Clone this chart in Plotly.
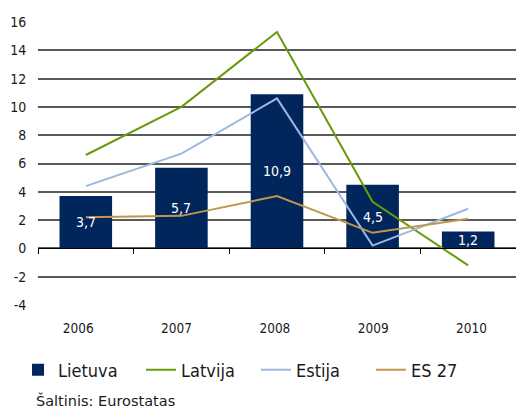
import plotly.graph_objects as go

years = ["2006", "2007", "2008", "2009", "2010"]
lietuva = [3.7, 5.7, 10.9, 4.5, 1.2]
latvija = [6.6, 10.0, 15.3, 3.3, -1.2]
estija = [4.4, 6.7, 10.6, 0.2, 2.8]
es27 = [2.2, 2.3, 3.7, 1.1, 2.1]
y_ticks = list(range(-4, 17, 2))

FONT = "DejaVu Sans Condensed, DejaVu Sans, sans-serif"
TXT = "#1a1a1a"
xs = list(range(len(years)))
bounds = [i - 0.5 for i in range(len(years) + 1)]

fig = go.Figure()
fig.add_trace(go.Bar(x=xs, y=lietuva, name="Lietuva", marker_color="#00265C",
                     width=0.55, marker_line_width=0, legend="legend"))
fig.add_trace(go.Scatter(x=xs, y=latvija, name="Latvija", mode="lines",
                         line=dict(color="#6A9A0B", width=2), legend="legend2"))
fig.add_trace(go.Scatter(x=xs, y=estija, name="Estija", mode="lines",
                         line=dict(color="#9DB8E0", width=2), legend="legend3"))
fig.add_trace(go.Scatter(x=xs, y=es27, name="ES 27", mode="lines",
                         line=dict(color="#C0974A", width=2), legend="legend4"))
# zero line with boundary ticks
fig.add_trace(go.Scatter(x=[bounds[0], bounds[-1]], y=[0, 0], xaxis="x2",
                         mode="lines", line=dict(color="rgba(0,0,0,0)"),
                         showlegend=False, hoverinfo="skip"))
# carrier for the year labels axis
fig.add_trace(go.Scatter(x=xs, y=[None] * len(xs), xaxis="x3", mode="lines",
                         showlegend=False, hoverinfo="skip"))

for i, v in enumerate(lietuva):
    fig.add_annotation(x=i, y=v / 2, text=f"{v:.1f}".replace(".", ","),
                       showarrow=False, font=dict(family=FONT, size=14, color="white"))

fig.add_annotation(xref="paper", yref="paper", x=-0.008, y=-0.3357, xanchor="left",
                   yanchor="middle", text="Šaltinis: Eurostatas", showarrow=False,
                   font=dict(family="DejaVu Sans, sans-serif", size=14.5, color=TXT))

def leg(x):
    return dict(orientation="h", x=x, y=-0.2297, xanchor="left", yanchor="middle",
                font=dict(family=FONT, size=18, color=TXT),
                bgcolor="rgba(0,0,0,0)", borderwidth=0)

fig.update_layout(
    width=516, height=409,
    margin=dict(l=38, r=0, t=22, b=104),
    paper_bgcolor="white", plot_bgcolor="white",
    font=dict(family=FONT, color=TXT),
    showlegend=True,
    legend=leg(-0.0418),
    legend2=leg(0.2155),
    legend3=leg(0.456),
    legend4=leg(0.6967),
    xaxis=dict(range=[bounds[0], bounds[-1]], showticklabels=False,
               showgrid=False, zeroline=False, showline=False, ticks=""),
    xaxis2=dict(range=[bounds[0], bounds[-1]], overlaying="x", anchor="free",
                position=0.2, side="bottom", showline=True, linecolor="black",
                linewidth=1, ticks="outside", ticklen=5, tickcolor="black",
                tickvals=bounds, showticklabels=False, showgrid=False, zeroline=False),
    xaxis3=dict(range=[-0.4088, 4.4519], overlaying="x", anchor="y", side="bottom",
                tickvals=xs, ticktext=years, showgrid=False, zeroline=False,
                showline=False, ticks="outside", ticklen=11,
                tickcolor="rgba(0,0,0,0)",
                tickfont=dict(family=FONT, size=13.5, color=TXT)),
    yaxis=dict(range=[-4, 16], tickvals=y_ticks, ticktext=[str(t) for t in y_ticks],
               showgrid=True, gridcolor="#5a5a5a",
               gridwidth=1.6, zeroline=False, showline=False, ticks="outside",
               ticklen=8, tickcolor="rgba(0,0,0,0)",
               tickfont=dict(family=FONT, size=14, color=TXT)),
)

fig.write_html("out.html", config={"displayModeBar": False},
               post_script="document.body.style.margin='0';")
